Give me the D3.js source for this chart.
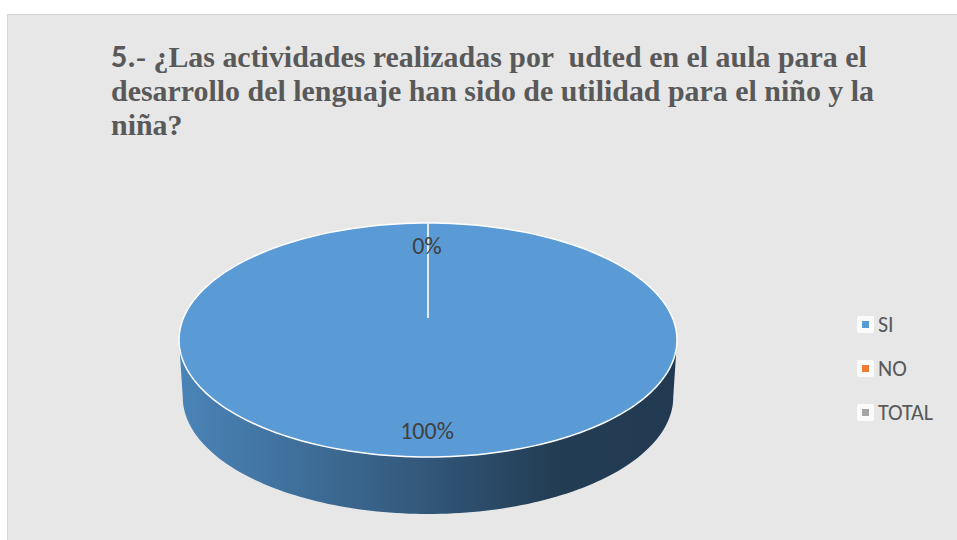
<!DOCTYPE html>
<html><head><meta charset="utf-8">
<script src="https://cdn.jsdelivr.net/npm/d3@7"></script>
<style>body{margin:0;background:#fff}svg{display:block}</style>
</head><body>
<svg id="c" width="957" height="540"></svg>
<script>
const categories = ["SI", "NO", "TOTAL"];
const values = [100, 0, 0];
const labels = ["100%", "0%", ""];
const colors = ["#5B9BD5", "#ED7D31", "#A5A5A5"];
const titleLines = [
  ["5.", "- ¿Las actividades realizadas por  udted en el aula para el"],
  ["", "desarrollo del lenguaje han sido de utilidad para el niño y la"],
  ["", "niña?"]
];
const SERIF = "'Liberation Serif'";
const SANS = "Carlito";

const svg = d3.select("#c");
svg.append("rect").attr("x", 7.5).attr("y", 14.5).attr("width", 960).attr("height", 540)
  .attr("fill", "#e7e7e7").attr("stroke", "#d6d6d6");

// title
const tg = svg.append("g");
const titleTexts = [];
titleLines.forEach((l, i) => {
  const t = tg.append("text").attr("x", 111).attr("y", 67 + i * 34)
    .attr("fill", "#595959").style("font-weight", "bold").style("font-size", "25px")
    .style("font-family", SERIF).style("white-space", "pre");
  if (l[0]) t.append("tspan").style("font-family", SANS).style("font-size", "27px").text(l[0]);
  t.append("tspan").style("font-family", SERIF).text(l[1]);
  titleTexts.push(t);
});
const w0 = titleTexts[0].node().getComputedTextLength();
const fs = 25 * 756 / w0;
titleTexts.forEach(t => t.style("font-size", fs + "px"));
titleTexts[0].select("tspan").style("font-size", (fs * 1.08) + "px");

// pie
const cx = 428, cy = 340, rx = 249, ry = 117, depth = 57, apexY = 318;
const pie = d3.pie().sort(null).startAngle(0).endAngle(2 * Math.PI);
const arcs = pie(values);

const defs = svg.append("defs");
const grad = defs.append("linearGradient").attr("id", "side").attr("x1", 0).attr("x2", 1).attr("y1", 0).attr("y2", 0);
grad.append("stop").attr("offset", 0).attr("stop-color", "#4a84b8");
grad.append("stop").attr("offset", 0.45).attr("stop-color", "#355c80");
grad.append("stop").attr("offset", 0.75).attr("stop-color", "#233d55");
grad.append("stop").attr("offset", 1).attr("stop-color", "#213a52");

const N = 120;
const sidePts = [];
for (let k = 0; k <= N; k++) {
  const a = Math.PI * k / N;
  sidePts.push([cx + rx * Math.cos(a), cy + ry * Math.sin(a)]);
}
const botPts = [];
for (let k = N; k >= 0; k--) {
  const a = Math.PI * k / N;
  const shrink = 0.985;
  botPts.push([cx + rx * shrink * Math.cos(a), cy + depth + ry * Math.sin(a)]);
}
svg.append("path").attr("d", d3.line()(sidePts.concat(botPts)) + "Z").attr("fill", "url(#side)");

const topFace = svg.append("g");
arcs.forEach((d, i) => {
  if (d.endAngle - d.startAngle <= 0) return;
  const pts = [];
  const steps = 200;
  for (let k = 0; k <= steps; k++) {
    const a = d.startAngle + (d.endAngle - d.startAngle) * k / steps;
    pts.push([cx + rx * Math.sin(a), cy - ry * Math.cos(a)]);
  }
  topFace.append("path").attr("d", d3.line()(pts) + "Z").attr("fill", colors[i])
    .attr("stroke", "#ffffff").attr("stroke-width", 1.5);
});
arcs.forEach(d => {
  const a = d.startAngle;
  topFace.append("line").attr("x1", cx).attr("y1", apexY)
    .attr("x2", cx + rx * Math.sin(a)).attr("y2", cy - ry * Math.cos(a))
    .attr("stroke", "#e3edf7").attr("stroke-width", 1.5);
});

const lblPos = {"SI": [427, 439], "NO": [427, 254]};
categories.forEach((c, i) => {
  if (!labels[i]) return;
  svg.append("text").attr("x", lblPos[c][0]).attr("y", lblPos[c][1]).attr("text-anchor", "middle")
    .style("font-family", SANS).style("font-size", "24px").attr("fill", "#404040").text(labels[i]);
});

const lg = svg.append("g");
categories.forEach((c, i) => {
  const y = 324.5 + i * 44;
  lg.append("rect").attr("x", 857).attr("y", y - 8.5).attr("width", 17).attr("height", 17)
    .attr("fill", "#fbfbfb").attr("rx", 2);
  lg.append("rect").attr("x", 862).attr("y", y - 3.5).attr("width", 7).attr("height", 7).attr("fill", colors[i]);
  lg.append("text").attr("x", 878).attr("y", y + 7.5)
    .style("font-family", SANS).style("font-size", "22px").attr("fill", "#595959").text(c);
});
</script>
</body></html>
